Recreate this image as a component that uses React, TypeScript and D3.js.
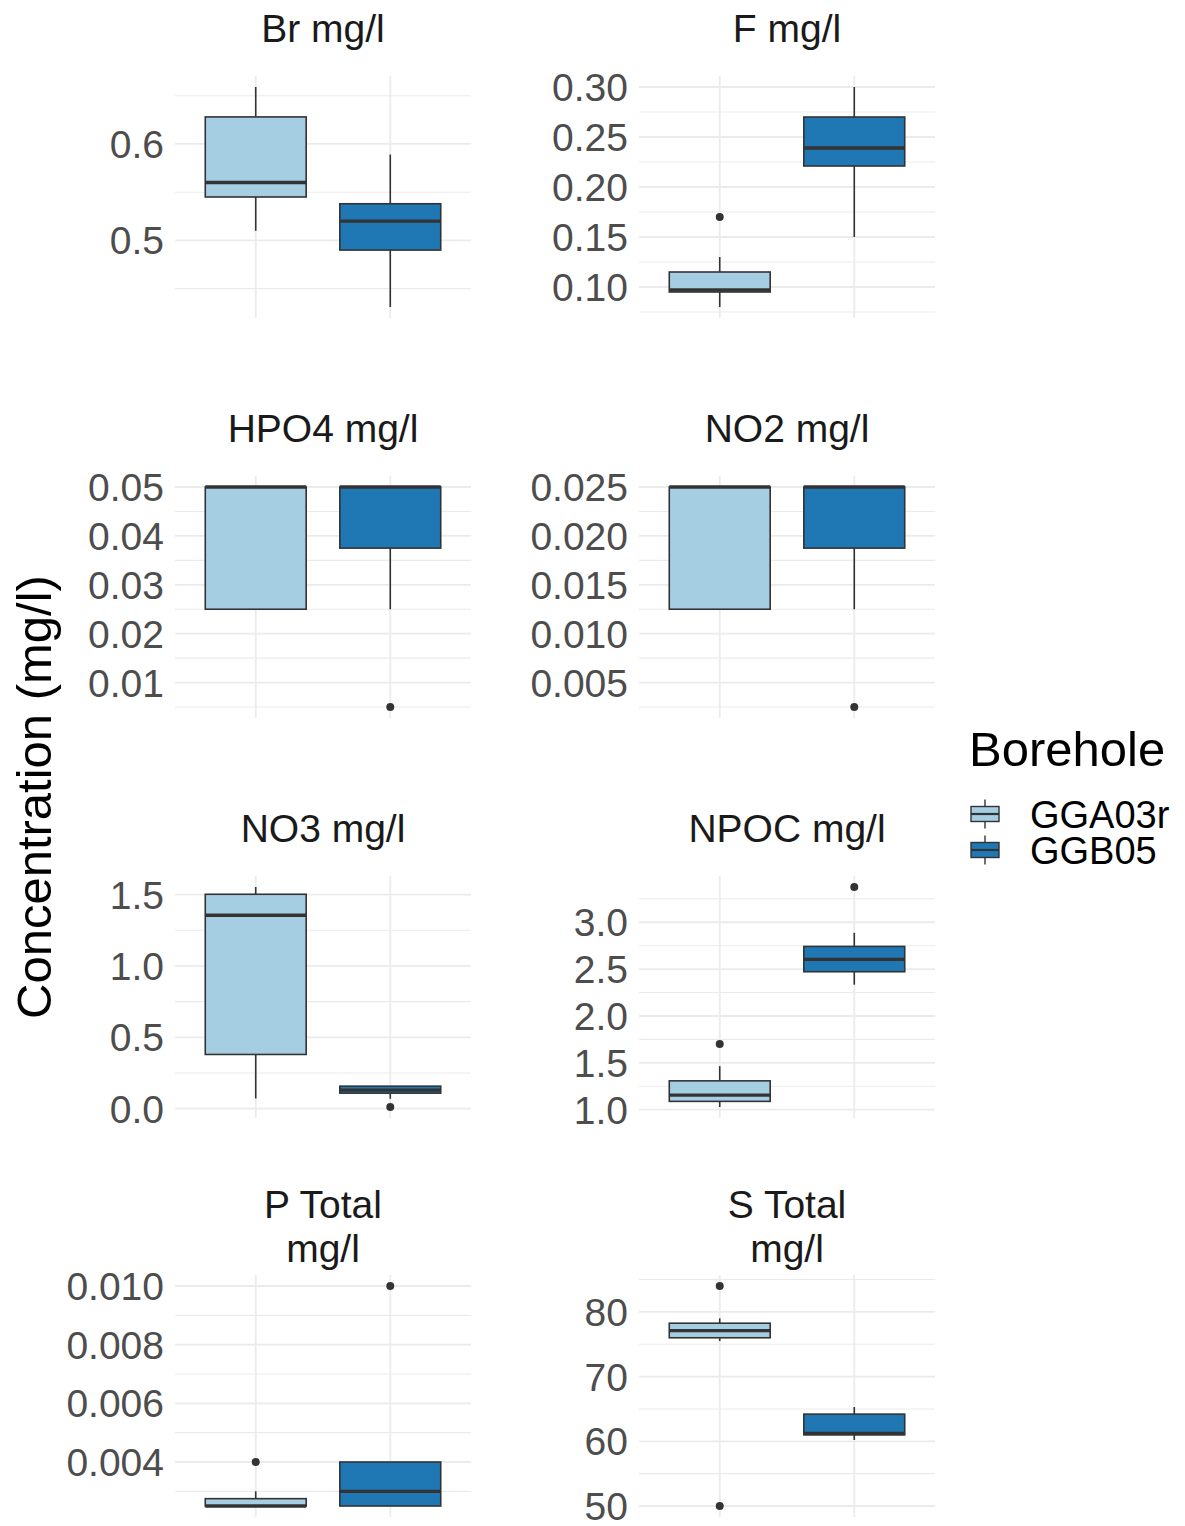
import React from "react";
import * as d3 from "d3";

// ---- data ----
const panelTitles: string[][] = [
  ["Br mg/l"], ["F mg/l"], ["HPO4 mg/l"], ["NO2 mg/l"],
  ["NO3 mg/l"], ["NPOC mg/l"], ["P Total", "mg/l"], ["S Total", "mg/l"],
];
const boreholes = ["GGA03r", "GGB05"];
const fills = ["#A6CEE3", "#1F78B4"];

// [lower whisker, Q1, median, Q3, upper whisker]
const ggaStats: number[][] = [
  [0.51, 0.545, 0.56, 0.628, 0.659],
  [0.08, 0.095, 0.097, 0.115, 0.13],
  [0.025, 0.025, 0.05, 0.05, 0.05],
  [0.0125, 0.0125, 0.025, 0.025, 0.025],
  [0.072, 0.38, 1.355, 1.502, 1.553],
  [1.029, 1.089, 1.156, 1.308, 1.465],
  [0.0025, 0.0025, 0.0025, 0.00275, 0.003],
  [75.5, 76.0, 77.1, 78.25, 79.0],
];
const ggbStats: number[][] = [
  [0.431, 0.49, 0.52, 0.538, 0.589],
  [0.15, 0.221, 0.239, 0.27, 0.3],
  [0.025, 0.0375, 0.05, 0.05, 0.05],
  [0.0125, 0.01875, 0.025, 0.025, 0.025],
  [0.07, 0.109, 0.13, 0.158, 0.158],
  [2.334, 2.472, 2.604, 2.742, 2.887],
  [0.0025, 0.0025, 0.003, 0.004, 0.004],
  [60.2, 61.0, 61.2, 64.2, 65.3],
];
const ggaOutliers: number[][] = [[], [0.17], [], [], [], [1.7], [0.004], [84.0, 50.0]];
const ggbOutliers: number[][] = [[], [], [0.005], [0.0025], [0.012], [3.376], [0.01], []];

const majorTicks: number[][] = [
  [0.5, 0.6],
  [0.1, 0.15, 0.2, 0.25, 0.3],
  [0.01, 0.02, 0.03, 0.04, 0.05],
  [0.005, 0.01, 0.015, 0.02, 0.025],
  [0, 0.5, 1.0, 1.5],
  [1.0, 1.5, 2.0, 2.5, 3.0],
  [0.004, 0.006, 0.008, 0.01],
  [50, 60, 70, 80],
];
const tickLabels: string[][] = [
  ["0.5", "0.6"],
  ["0.10", "0.15", "0.20", "0.25", "0.30"],
  ["0.01", "0.02", "0.03", "0.04", "0.05"],
  ["0.005", "0.010", "0.015", "0.020", "0.025"],
  ["0.0", "0.5", "1.0", "1.5"],
  ["1.0", "1.5", "2.0", "2.5", "3.0"],
  ["0.004", "0.006", "0.008", "0.010"],
  ["50", "60", "70", "80"],
];
const minorTicks: number[][] = [
  [0.45, 0.55, 0.65],
  [0.075, 0.125, 0.175, 0.225, 0.275],
  [0.005, 0.015, 0.025, 0.035, 0.045],
  [0.0025, 0.0075, 0.0125, 0.0175, 0.0225],
  [0.25, 0.75, 1.25],
  [1.25, 1.75, 2.25, 2.75, 3.25],
  [0.003, 0.005, 0.007, 0.009],
  [55, 65, 75, 85],
];

// ---- layout ----
const W = 1185;
const H = 1526;
const colLeft = [175, 639];
const panelW = 296;
const rowTop = [76, 476, 876, 1275];
const panelH = 242;
const FONT = "Liberation Sans, Arial, Helvetica, sans-serif";
const GRID = "#EBEBEB";
const INK = "#333333";

function Panel({ idx }: { idx: number }) {
  const col = idx % 2;
  const row = Math.floor(idx / 2);
  const x0 = colLeft[col];
  const y0 = rowTop[row];
  const stats = [ggaStats[idx], ggbStats[idx]];
  const outs = [ggaOutliers[idx], ggbOutliers[idx]];
  const all = [...stats[0], ...stats[1], ...outs[0], ...outs[1]];
  const [mn, mx] = d3.extent(all) as [number, number];
  const pad = (mx - mn) * 0.05;
  const y = d3.scaleLinear().domain([mn - pad, mx + pad]).range([y0 + panelH, y0]);
  const x = d3.scaleLinear().domain([0.4, 2.6]).range([x0, x0 + panelW]);
  const hw = 0.375;
  const title = panelTitles[idx];
  const cx = x0 + panelW / 2;
  return (
    <g>
      {title.length === 1 ? (
        <text x={cx} y={y0 - 34} textAnchor="middle" fontSize={39} fill="#1A1A1A" fontFamily={FONT}>
          {title[0]}
        </text>
      ) : (
        title.map((t, i) => (
          <text key={i} x={cx} y={y0 - 57 + i * 44} textAnchor="middle" fontSize={39} fill="#1A1A1A" fontFamily={FONT}>
            {t}
          </text>
        ))
      )}
      {minorTicks[idx].map((v, i) => (
        <line key={"mi" + i} x1={x0} x2={x0 + panelW} y1={y(v)} y2={y(v)} stroke={GRID} strokeWidth={1.1} />
      ))}
      {majorTicks[idx].map((v, i) => (
        <line key={"ma" + i} x1={x0} x2={x0 + panelW} y1={y(v)} y2={y(v)} stroke={GRID} strokeWidth={1.8} />
      ))}
      {[1, 2].map((c) => (
        <line key={"v" + c} x1={x(c)} x2={x(c)} y1={y0} y2={y0 + panelH} stroke={GRID} strokeWidth={1.8} />
      ))}
      {majorTicks[idx].map((v, i) => (
        <text key={"t" + i} x={x0 - 11} y={y(v)} dy="0.36em" textAnchor="end" fontSize={39} fill="#4D4D4D" fontFamily={FONT}>
          {tickLabels[idx][i]}
        </text>
      ))}
      {stats.map((s, b) => {
        const c = b + 1;
        return (
          <g key={"b" + b}>
            <line x1={x(c)} x2={x(c)} y1={y(s[3])} y2={y(s[4])} stroke={INK} strokeWidth={1.6} />
            <line x1={x(c)} x2={x(c)} y1={y(s[1])} y2={y(s[0])} stroke={INK} strokeWidth={1.6} />
            <rect
              x={x(c - hw)}
              y={y(s[3])}
              width={x(c + hw) - x(c - hw)}
              height={Math.max(0, y(s[1]) - y(s[3]))}
              fill={fills[b]}
              stroke={INK}
              strokeWidth={1.6}
            />
            <line x1={x(c - hw)} x2={x(c + hw)} y1={y(s[2])} y2={y(s[2])} stroke={INK} strokeWidth={3.4} />
            {outs[b].map((o, k) => (
              <circle key={k} cx={x(c)} cy={y(o)} r={4} fill={INK} />
            ))}
          </g>
        );
      })}
    </g>
  );
}

function LegendKey({ yc, fill }: { yc: number; fill: string }) {
  const xl = 971;
  const xr = 999;
  const xm = (xl + xr) / 2;
  return (
    <g>
      <line x1={xm} x2={xm} y1={yc - 14.5} y2={yc + 14.5} stroke={INK} strokeWidth={1.4} />
      <rect x={xl} y={yc - 7.5} width={xr - xl} height={15} fill={fill} stroke={INK} strokeWidth={1.4} />
      <line x1={xl} x2={xr} y1={yc} y2={yc} stroke={INK} strokeWidth={2.2} />
    </g>
  );
}

export default function App() {
  const keyCenters = [814, 850];
  return (
    <div style={{ position: "absolute", left: 0, top: 0 }}>
      <svg width={W} height={H} style={{ display: "block", background: "#fff" }}>
        <rect x={0} y={0} width={W} height={H} fill="#fff" />
        {panelTitles.map((_, i) => (
          <Panel key={i} idx={i} />
        ))}
        <text
          transform={`translate(33,797) rotate(-90)`}
          textAnchor="middle"
          dy="0.36em"
          fontSize={49}
          fill="#000"
          fontFamily={FONT}
        >
          Concentration (mg/l)
        </text>
        <text x={969} y={766} fontSize={49} fill="#000" fontFamily={FONT}>
          Borehole
        </text>
        {boreholes.map((b, i) => (
          <g key={b}>
            <LegendKey yc={keyCenters[i]} fill={fills[i]} />
            <text x={1030} y={keyCenters[i] + 14} fontSize={38} fill="#000" fontFamily={FONT}>
              {b}
            </text>
          </g>
        ))}
      </svg>
    </div>
  );
}
